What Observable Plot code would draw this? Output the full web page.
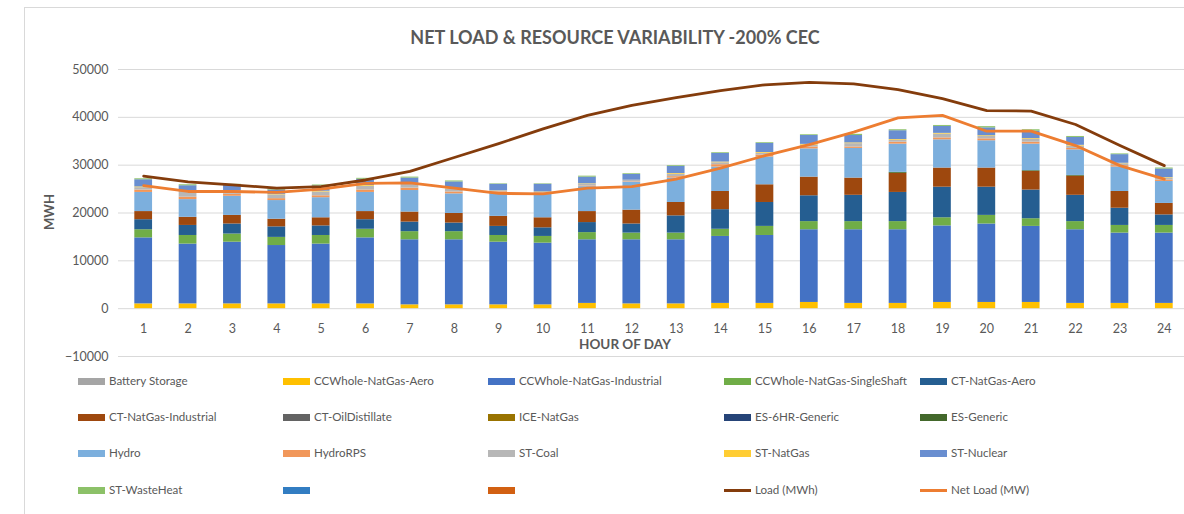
<!DOCTYPE html>
<html>
<head>
<meta charset="utf-8">
<script src="https://cdn.jsdelivr.net/npm/d3@7"></script>
<script src="https://cdn.jsdelivr.net/npm/@observablehq/plot@0.6"></script>
<style>
  html, body { margin: 0; padding: 0; background: #fff; }
  #wrap { position: relative; width: 1184px; height: 514px; overflow: hidden; font-family: Lato, "Open Sans", sans-serif; color: #595959; }
  #frame { position: absolute; left: 24px; top: 7px; width: 1200px; height: 520px; border: 1px solid #d9d9d9; box-sizing: border-box; }
  #title { position: absolute; left: 0; width: 1230px; top: 26px; text-align: center; font-weight: bold; font-size: 18px; color: #595959; }
  #chart { position: absolute; left: 0; top: 0; }
  .lg { position: absolute; font-size: 11.6px; color: #595959; white-space: nowrap; line-height: 14px; }
  .sw { position: absolute; width: 27px; height: 7px; }
  .ln { position: absolute; width: 27px; height: 3px; }
  #ylab { position: absolute; left: 49px; top: 212px; transform: translate(-50%,-50%) rotate(-90deg); font-weight: bold; font-size: 13px; }
  #xlab { position: absolute; left: 625px; top: 336px; transform: translateX(-50%); font-weight: bold; font-size: 13.5px; }
</style>
</head>
<body>
<div id="wrap">
  <div id="frame"></div>
  <div id="title">NET LOAD &amp; RESOURCE VARIABILITY -200% CEC</div>
  <div id="chart"></div>
  <div id="ylab">MWH</div>
  <div id="xlab">HOUR OF DAY</div>
  <div id="legend"></div>
</div>
<script>
const hours = [1,2,3,4,5,6,7,8,9,10,11,12,13,14,15,16,17,18,19,20,21,22,23,24];

const seriesNames = [
  "Battery Storage", "CCWhole-NatGas-Aero", "CCWhole-NatGas-Industrial", "CCWhole-NatGas-SingleShaft", "CT-NatGas-Aero",
  "CT-NatGas-Industrial", "CT-OilDistillate", "ICE-NatGas", "ES-6HR-Generic", "ES-Generic",
  "Hydro", "HydroRPS", "ST-Coal", "ST-NatGas", "ST-Nuclear",
  "ST-WasteHeat", " ", "  "
];
const seriesColors = [
  "#A5A5A5", "#FFC000", "#4472C4", "#70AD47", "#255E91",
  "#9E480E", "#636363", "#997300", "#264478", "#43682B",
  "#7CAFDD", "#F1975A", "#B7B7B7", "#FFCD33", "#698ED0",
  "#8CC168", "#327DC2", "#D26012"
];

const batteryStorage = [0,0,0,0,0,0,0,0,0,0,0,0,0,0,0,0,0,0,0,0,0,0,0,0];
const ccAero       = [1000,1000,1000,1000,1000,1000,800,800,800,800,1100,1000,1000,1100,1100,1300,1100,1100,1300,1300,1300,1100,1100,1100];
const ccIndustrial = [13800,12500,12900,12200,12500,13800,13600,13600,13100,12900,13300,13400,13400,14000,14200,15200,15400,15400,16000,16400,15900,15400,14700,14700];
const ccSingleShaft= [1700,1800,1700,1700,1800,1800,1700,1700,1400,1400,1500,1400,1400,1500,1900,1700,1700,1700,1700,1800,1600,1700,1600,1600];
const ctAero       = [2100,2100,2100,2200,2000,2000,2000,1800,1900,1800,2100,1900,3600,4100,5000,5400,5500,6100,6400,5900,6000,5500,3600,2200];
const ctIndustrial = [1700,1700,1800,1600,1700,1700,2100,2000,2100,2100,2300,2900,2800,3800,3700,3900,3600,4000,4000,4000,3900,4000,3500,2400];
const ctOil        = [0,0,0,0,0,0,0,0,0,0,0,0,0,0,0,0,0,0,0,0,0,0,0,0];
const iceNatGas    = [0,0,0,0,0,0,0,0,0,0,0,0,0,0,0,0,0,0,0,0,0,0,0,0];
const es6hr        = [0,0,0,0,0,0,0,0,0,0,0,0,0,0,0,0,0,0,0,0,0,0,0,0];
const esGeneric    = [0,0,0,0,0,0,0,0,0,0,0,0,0,0,0,0,0,200,0,0,150,150,0,0];
const hydro        = [4000,3700,4000,3900,4200,4000,4500,4100,5000,5000,5200,5800,5100,5100,5800,5900,6200,5900,5900,5700,5550,5350,5100,4600];
const hydroRPS     = [500,500,400,400,400,500,500,400,150,200,150,100,300,500,400,400,300,400,400,400,400,300,300,300];
const stCoal       = [500,1000,600,800,800,800,800,600,150,100,350,300,500,400,400,400,700,400,800,500,600,500,400,400];
const stNatGas     = [150,100,100,100,150,150,200,100,50,100,100,50,150,150,150,150,150,150,150,150,150,150,100,100];
const stNuclear    = [1500,1300,1200,900,1100,1300,1100,1400,1350,1600,1400,1200,1500,1800,1900,1850,1550,1850,1450,1650,1550,1650,1800,1800];
const stWasteHeat  = [200,200,200,200,200,200,200,200,100,100,200,150,150,150,150,150,250,200,200,250,300,200,150,200];
const blank1       = [0,0,0,0,0,0,0,0,0,0,0,0,0,0,0,0,0,0,0,0,0,0,0,0];
const blank2       = [0,0,0,0,0,0,0,0,0,0,0,0,0,0,0,0,0,0,0,0,0,0,0,0];

const loadMWh  = [27700,26500,25900,25200,25500,26900,28700,31600,34500,37600,40400,42500,44100,45600,46800,47300,47000,45800,43900,41400,41300,38500,34100,29900];
const netLoadMW= [25700,24500,24500,24300,25000,26200,26300,25200,24100,24000,25200,25500,27100,29400,32000,34300,36900,39900,40400,37100,37100,34100,29900,27100];

const yTicks = [-10000, 0, 10000, 20000, 30000, 40000, 50000];

const seriesValues = [batteryStorage, ccAero, ccIndustrial, ccSingleShaft, ctAero, ctIndustrial, ctOil, iceNatGas, es6hr, esGeneric,
  hydro, hydroRPS, stCoal, stNatGas, stNuclear, stWasteHeat, blank1, blank2];

const tidy = [];
hours.forEach((h, i) => {
  seriesNames.forEach((s, j) => tidy.push({hour: h, series: s, value: seriesValues[j][i]}));
});
const loadData = hours.map((h, i) => ({hour: h, load: loadMWh[i], net: netLoadMW[i]}));

const chart = Plot.plot({
  width: 1184,
  height: 370,
  marginTop: 69,
  marginBottom: 14,
  marginLeft: 118,
  marginRight: 0,
  style: {fontFamily: "Lato, 'Open Sans', sans-serif", fontSize: "12px", color: "#595959", background: "transparent"},
  x: {type: "band", domain: hours, range: [121, 1186], paddingInner: 0.6, paddingOuter: 0.3, round: false, axis: null},
  y: {domain: [-10000, 50000], axis: null},
  color: {domain: seriesNames, range: seriesColors},
  marks: [
    Plot.ruleY(yTicks, {stroke: "#d9d9d9", strokeWidth: 1}),
    Plot.axisY({ticks: yTicks, tickSize: 0, tickPadding: 10, tickFormat: d3.format("d"), label: null, fontSize: 12.5, fill: "#595959"}),
    Plot.barY(tidy, {x: "hour", y: "value", fill: "series", order: seriesNames}),
    Plot.line(loadData, {x: "hour", y: "load", stroke: "#843C0C", strokeWidth: 2.8}),
    Plot.line(loadData, {x: "hour", y: "net", stroke: "#ED7D31", strokeWidth: 2.8}),
    Plot.text(hours, {x: d => d, y: 0, dy: 20, text: d => String(d), fill: "#595959", fontSize: 12.5})
  ]
});
document.getElementById("chart").appendChild(chart);

// Legend
const legendItems = seriesNames.map((s, i) => ({name: s.trim(), color: seriesColors[i], kind: "rect"}))
  .concat([{name: "Load (MWh)", color: "#843C0C", kind: "line"}, {name: "Net Load (MW)", color: "#ED7D31", kind: "line"}]);
const colX = [78, 283, 488, 724, 920];
const rowY = [381, 417, 453, 490];
const lg = document.getElementById("legend");
legendItems.forEach((it, i) => {
  const c = i % 5, r = Math.floor(i / 5);
  const sw = document.createElement("div");
  sw.className = it.kind === "rect" ? "sw" : "ln";
  sw.style.background = it.color;
  sw.style.left = colX[c] + "px";
  sw.style.top = (rowY[r] - (it.kind === "rect" ? 3.5 : 1.5)) + "px";
  lg.appendChild(sw);
  if (it.name) {
    const t = document.createElement("div");
    t.className = "lg";
    t.textContent = it.name;
    t.style.left = (colX[c] + 31) + "px";
    t.style.top = (rowY[r] - 7) + "px";
    lg.appendChild(t);
  }
});
</script>
</body>
</html>
